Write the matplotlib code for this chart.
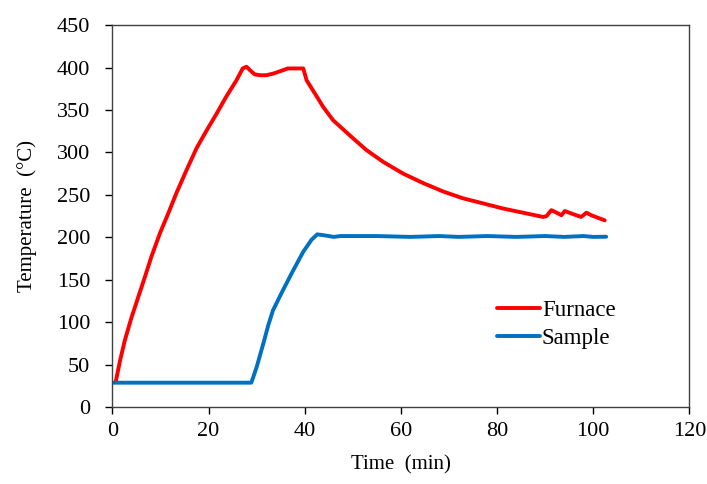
import matplotlib
matplotlib.use("Agg")
import matplotlib.pyplot as plt

furnace_t = [0.7, 1.6, 2.6, 4.0, 5.4, 6.8, 8.1, 9.9, 11.6, 13.3, 15.4, 17.5, 19.6, 21.7,
             23.7, 25.8, 27.1, 27.9, 28.6, 29.6, 30.7, 32.0, 33.5, 35.0, 36.5, 38.0, 39.7,
             40.4, 42.5, 43.8, 45.9, 49.4, 52.8, 56.3, 60.5, 64.6, 68.8, 72.9, 77.1, 81.2,
             85.4, 89.6, 90.3, 91.3, 92.4, 93.4, 94.1, 95.5, 97.5, 98.6, 99.6, 102.4]
furnace_T = [30, 55, 79, 106, 130, 154, 177, 205, 228, 252, 279, 305, 326, 346,
             366, 385, 399, 401, 397, 392, 391, 391, 393, 396, 399, 399, 399,
             385, 366, 354, 338, 320, 303, 289, 275, 264, 254, 246, 240, 234,
             229, 224, 225, 232, 229, 226, 231, 228, 224, 229, 226, 220]

sample_t = [0.0, 10.0, 20.0, 28.9, 30.0, 31.4, 32.4, 33.4, 35.5, 37.6, 39.7, 41.4, 42.6,
            44.5, 46.0, 47.5, 55.0, 62.0, 68.0, 72.0, 78.0, 84.0, 90.0, 94.0, 98.0, 100.0, 102.7]
sample_T = [28.7, 28.7, 28.7, 28.7, 47, 75, 96, 114, 138, 161, 183, 197, 203.5,
            202, 200.5, 201.5, 201.5, 200.5, 201.5, 200.5, 201.5, 200.5, 201.5, 200.5, 201.5, 200.5, 200.7]

x_ticks = [0, 20, 40, 60, 80, 100, 120]
y_ticks = [0, 50, 100, 150, 200, 250, 300, 350, 400, 450]

plt.rcParams['font.family'] = ['Liberation Serif', 'DejaVu Serif']

fig = plt.figure(figsize=(7.07, 4.84), dpi=100)
ax = fig.add_axes([0.159, 0.159, 0.816, 0.789])

ax.plot(furnace_t, furnace_T, color='#FF0000', lw=2.8, label='Furnace',
        solid_capstyle='round', solid_joinstyle='round')
ax.plot(sample_t, sample_T, color='#0070C0', lw=2.8, label='Sample',
        solid_capstyle='round', solid_joinstyle='round')

ax.set_xlim(0, 120)
ax.set_ylim(0, 450)
ax.set_xticks(x_ticks)
ax.set_yticks(y_ticks)
ax.tick_params(direction='out', length=5, width=1, labelsize=16, colors='black')
ax.tick_params(axis='x', pad=6)
ax.tick_params(axis='y', pad=11)
for s in ax.spines.values():
    s.set_color('#404040')
    s.set_linewidth(1.0)
ax.tick_params(top=False, right=False)

ax.set_xlabel('Time  (min)', fontsize=15, labelpad=10)
ax.set_ylabel('Temperature  (°C)', fontsize=15, labelpad=14)

ax.legend(loc='center left', bbox_to_anchor=(0.667, 0.217), frameon=False, fontsize=16.5,
          handlelength=1.85, handletextpad=0.1, labelspacing=0.3, borderaxespad=0, borderpad=0)

fig.savefig('out.png', dpi=100)
